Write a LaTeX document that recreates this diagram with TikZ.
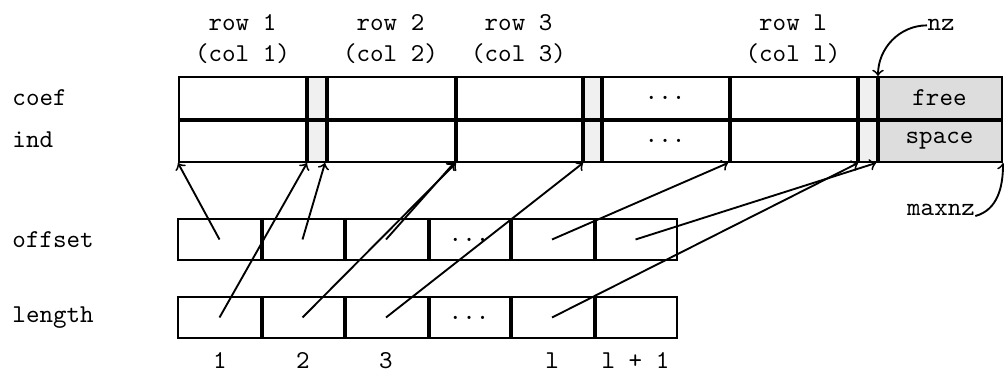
\documentclass[tikz,border=0pt]{standalone}
\usepackage{fontspec}
\definecolor{gapgray}{HTML}{F0F0F0}
\definecolor{freegray}{HTML}{DDDDDD}
\newcommand\cellpair[6]{%
  \node[cell, fill=#4, minimum width={(#3-#2)*0.4pt}, minimum height=42*0.4pt] (#1c) at ({(#2+#3)/2},98) {#5};
  \node[cell, fill=#4, minimum width={(#3-#2)*0.4pt}, minimum height=43*0.4pt] (#1i) at ({(#2+#3)/2},140.5) {#6};
}
\newcommand\lowcell[5]{%
  \node[cell, minimum width={(#3-#2)*0.4pt}, minimum height=41*0.4pt] (#1) at ({(#2+#3)/2},#4) {#5};
}
\begin{document}
\begin{tikzpicture}[x=0.4pt,y=-0.4pt,
  font=\ttfamily\fontsize{10.3}{12.4}\selectfont,
  cell/.style={draw, line width=0.8pt, inner sep=0pt},
  thickline/.style={line width=1.6pt},
  midline/.style={line width=1.3pt},
  arr/.style={->, line width=0.75pt},
  lbl/.style={anchor=base west, inner sep=0pt},
  hdr/.style={anchor=base, inner sep=0pt}]
\useasboundingbox (0,0) rectangle (1004,372);

% top array
\cellpair{a1}{179}{306}{white}{}{}
\cellpair{g1}{306}{326}{gapgray}{}{}
\cellpair{a2}{326}{455}{white}{}{}
\cellpair{a3}{455}{582}{white}{}{}
\cellpair{g2}{582}{601}{gapgray}{}{}
\cellpair{a4}{601}{729}{white}{...}{...}
\cellpair{a5}{729}{857}{white}{}{}
\cellpair{g3}{857}{877}{gapgray}{}{}
\cellpair{fr}{877}{1002}{freegray}{free}{space}

\draw[midline] (a1c.south west) -- (frc.south east);
\foreach \n in {a1,g1,a2,a3,g2,a4,a5,g3}
  \draw[thickline] (\n c.north east) -- (\n i.south east);

% offset and length arrays
\lowcell{o1}{178}{261}{239.5}{}
\lowcell{o2}{261}{344}{239.5}{}
\lowcell{o3}{344}{428}{239.5}{}
\lowcell{o4}{428}{510}{239.5}{...}
\lowcell{o5}{510}{594}{239.5}{}
\lowcell{o6}{594}{677}{239.5}{}
\lowcell{l1}{178}{261}{317.5}{}
\lowcell{l2}{261}{344}{317.5}{}
\lowcell{l3}{344}{428}{317.5}{}
\lowcell{l4}{428}{510}{317.5}{...}
\lowcell{l5}{510}{594}{317.5}{}
\lowcell{l6}{594}{677}{317.5}{}
\foreach \n in {o1,o2,o3,o4,o5,l1,l2,l3,l4,l5}
  \draw[line width=1.2pt] (\n.north east) -- (\n.south east);

% labels
\node[lbl] (lcoef) at (12,106) {coef};
\node[lbl] (lind) at (12,148) {ind};
\node[lbl] (loff) at (12,247) {offset};
\node[lbl] (llen) at (12,322) {length};

\node[hdr] (h1a) at (242.5,31) {row 1};
\node[hdr] (h1b) at (242.5,62) {(col 1)};
\node[hdr] (h2a) at (390.5,31) {row 2};
\node[hdr] (h2b) at (390.5,62) {(col 2)};
\node[hdr] (h3a) at (518.5,31) {row 3};
\node[hdr] (h3b) at (518.5,62) {(col 3)};
\node[hdr] (h5a) at (793,31) {row l};
\node[hdr] (h5b) at (793,62) {(col l)};

\node[hdr] (n1) at (220,368) {1};
\node[hdr] (n2) at (303,368) {2};
\node[hdr] (n3) at (386,368) {3};
\node[hdr] (n5) at (552,368) {l};
\node[hdr] (n6) at (635.5,368) {l + 1};

\node[hdr] (nz) at (941,31) {nz};
\node[hdr] (maxnz) at (941,216) {maxnz};

% arrows
\draw[arr] (o1.center) -- (a1i.south west);
\draw[arr] (o2.center) -- (a2i.south west);
\draw[arr] (o3.center) -- (a3i.south west);
\draw[arr] (o5.center) -- (a5i.south west);
\draw[arr] (o6.center) -- (fri.south west);
\draw[arr] (l1.center) -- (a1i.south east);
\draw[arr] (l2.center) -- (a2i.south east);
\draw[arr] (l3.center) -- (a3i.south east);
\draw[arr] (l5.center) -- (a5i.south east);

\draw[arr] (nz.west) to[out=180,in=90] (g3c.north east);
\draw[arr] (maxnz.base east) to[out=15,in=-90] (fri.south east);
\end{tikzpicture}
\end{document}
